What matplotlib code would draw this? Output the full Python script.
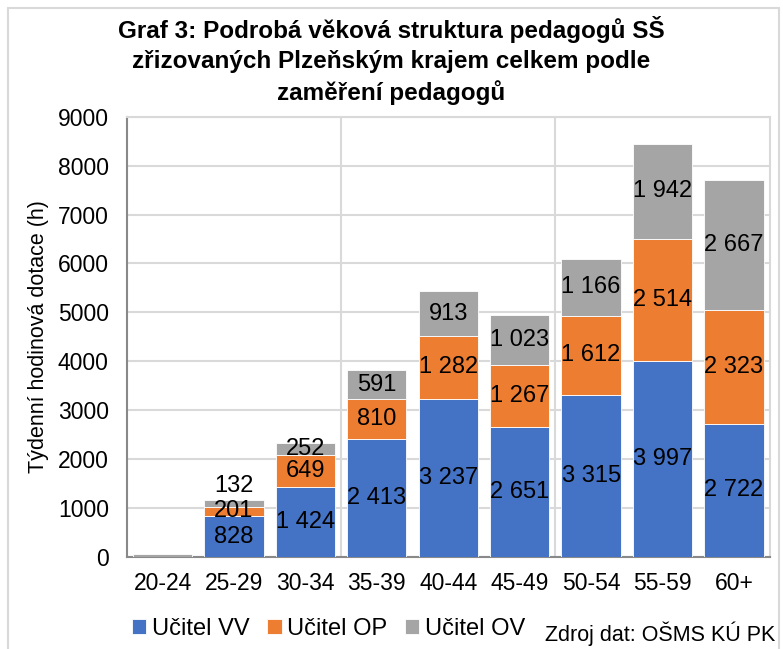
import numpy as np
import matplotlib.pyplot as plt
from matplotlib.patches import Rectangle

plt.rcParams['font.family'] = ['Liberation Sans', 'DejaVu Sans']

# Age groups and hours per teacher type
age_groups = ['20-24', '25-29', '30-34', '35-39', '40-44', '45-49', '50-54', '55-59', '60+']
ucitel_vv = [0, 828, 1424, 2413, 3237, 2651, 3315, 3997, 2722]
ucitel_op = [0, 201, 649, 810, 1282, 1267, 1612, 2514, 2323]
ucitel_ov = [65, 132, 252, 591, 913, 1023, 1166, 1942, 2667]

series_names = ['Učitel VV', 'Učitel OP', 'Učitel OV']
colors = ['#4472C4', '#ED7D31', '#A5A5A5']


def fmt(v):
    # thousands separated by a space, like the Czech Excel output
    return f"{v:,}".replace(',', ' ')


fig = plt.figure(figsize=(7.83, 6.49), dpi=100)
ax = fig.add_axes([0.162, 0.142, 0.821, 0.678])

x = np.arange(len(age_groups))
bottom = np.zeros(len(age_groups))
for name, vals, col in zip(series_names, [ucitel_vv, ucitel_op, ucitel_ov], colors):
    vals = np.array(vals)
    ax.bar(x, vals, 0.83, bottom=bottom, color=col, label=name,
           edgecolor='white', linewidth=0.6, zorder=3)
    for xi, b, v in zip(x, bottom, vals):
        if xi == 0 or v == 0:
            continue
        if v < 200:
            # too thin for the label, put it above the bar
            ax.text(xi, b + v + 60, fmt(v), ha='center', va='bottom', fontsize=17, zorder=4)
        else:
            ax.text(xi, b + v / 2, fmt(v), ha='center', va='center', fontsize=17, zorder=4)
    bottom += vals

ax.set_xlim(-0.5, len(age_groups) - 0.5)
ax.set_ylim(0, 9000)
ax.set_yticks(np.arange(0, 9001, 1000))
ax.set_xticks(x)
ax.set_xticklabels(age_groups)
ax.tick_params(axis='both', length=0, labelsize=16.5)
ax.tick_params(axis='x', pad=11)
ax.tick_params(axis='y', pad=13)

ax.grid(axis='y', color='#d9d9d9', linewidth=1.5, zorder=0)
for gx in [2.5, 5.5]:
    ax.axvline(gx, color='#d9d9d9', linewidth=1.5, zorder=0)

for s in ['top', 'right']:
    ax.spines[s].set_color('#d9d9d9')
    ax.spines[s].set_linewidth(1.5)
for s in ['left', 'bottom']:
    ax.spines[s].set_color('#898989')
    ax.spines[s].set_linewidth(1.5)

ax.set_ylabel('Týdenní hodinová dotace (h)', fontsize=15.5, labelpad=6)

fig.text(0.5, 0.975, 'Graf 3: Podrobá věková struktura pedagogů SŠ\n'
         'zřizovaných Plzeňským krajem celkem podle\nzaměření pedagogů',
         ha='center', va='top', fontsize=17.5, fontweight='bold', linespacing=1.38)

ax.legend(loc='upper left', bbox_to_anchor=(-0.025, -0.09), ncol=3, frameon=False,
          fontsize=17, handlelength=0.6, handleheight=0.6, handletextpad=0.25,
          columnspacing=0.75)

fig.text(0.99, 0.004, 'Zdroj dat: OŠMS KÚ PK', ha='right', va='bottom', fontsize=15.5)

fig.patches.append(Rectangle((0.01, -0.01), 0.985, 0.997, transform=fig.transFigure,
                             fill=False, edgecolor='#d9d9d9', linewidth=1.5))

fig.savefig('out.png', dpi=100)
